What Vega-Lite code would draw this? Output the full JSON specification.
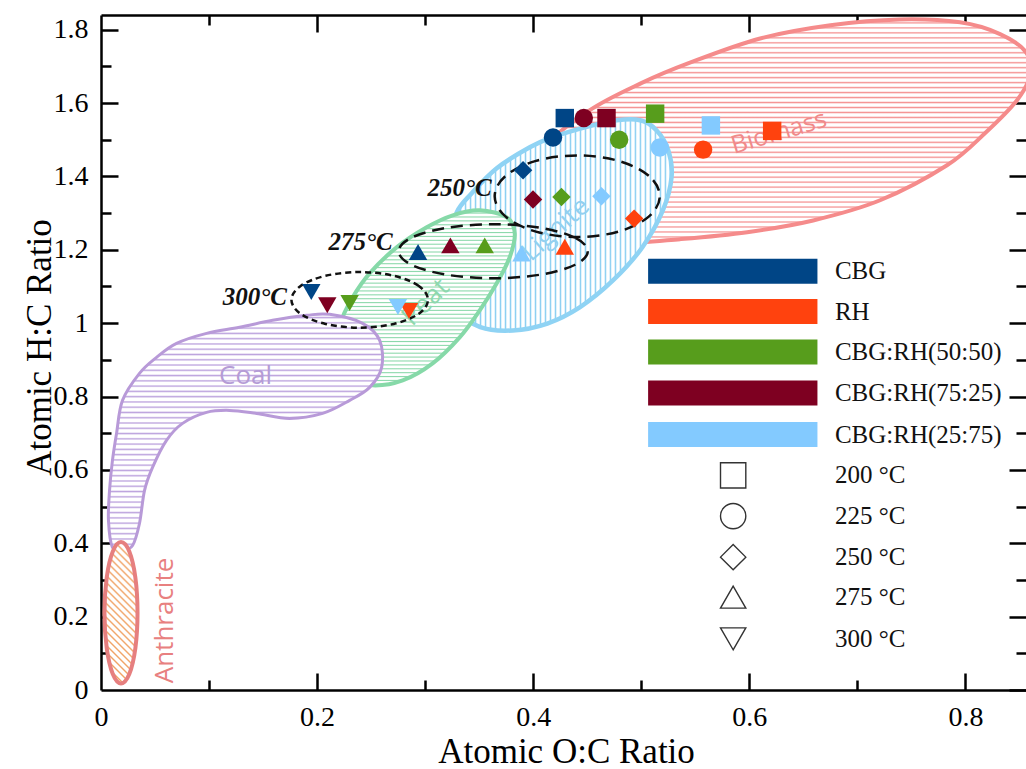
{
"$schema": "https://vega.github.io/schema/vega-lite/v6.json",
"width": 925, "height": 675,
"autosize": "none",
"padding": {"left": 101, "top": 15, "right": 0, "bottom": 79},
"background": "white",
"config": {"view": {"stroke": null},
 "axis": {"grid": false, "domainColor": "#000", "domainWidth": 2.5, "tickColor": "#000", "tickWidth": 2.5, "labelFont": "Liberation Serif", "labelFontSize": 28, "labelColor": "#000", "titleFont": "Liberation Serif", "titleFontSize": 35, "titleFontWeight": "normal", "titleColor": "#000"},
 "style": {
  "hstripe": {"fill": {"gradient": "linear", "x1": 0, "y1": 0, "x2": 0, "y2": 1, "stops": [
{"offset":0,"color":"#fff"},{"offset":0.01,"color":"#fff"},{"offset":0.016,"color":"#fff0"},
{"offset":0.0222,"color":"#fff"},{"offset":0.0322,"color":"#fff"},{"offset":0.0382,"color":"#fff0"},
{"offset":0.0444,"color":"#fff"},{"offset":0.0544,"color":"#fff"},{"offset":0.0604,"color":"#fff0"},
{"offset":0.0667,"color":"#fff"},{"offset":0.0767,"color":"#fff"},{"offset":0.0827,"color":"#fff0"},
{"offset":0.0889,"color":"#fff"},{"offset":0.0989,"color":"#fff"},{"offset":0.1049,"color":"#fff0"},
{"offset":0.1111,"color":"#fff"},{"offset":0.1211,"color":"#fff"},{"offset":0.1271,"color":"#fff0"},
{"offset":0.1333,"color":"#fff"},{"offset":0.1433,"color":"#fff"},{"offset":0.1493,"color":"#fff0"},
{"offset":0.1556,"color":"#fff"},{"offset":0.1656,"color":"#fff"},{"offset":0.1716,"color":"#fff0"},
{"offset":0.1778,"color":"#fff"},{"offset":0.1878,"color":"#fff"},{"offset":0.1938,"color":"#fff0"},
{"offset":0.2,"color":"#fff"},{"offset":0.21,"color":"#fff"},{"offset":0.216,"color":"#fff0"},
{"offset":0.2222,"color":"#fff"},{"offset":0.2322,"color":"#fff"},{"offset":0.2382,"color":"#fff0"},
{"offset":0.2444,"color":"#fff"},{"offset":0.2544,"color":"#fff"},{"offset":0.2604,"color":"#fff0"},
{"offset":0.2667,"color":"#fff"},{"offset":0.2767,"color":"#fff"},{"offset":0.2827,"color":"#fff0"},
{"offset":0.2889,"color":"#fff"},{"offset":0.2989,"color":"#fff"},{"offset":0.3049,"color":"#fff0"},
{"offset":0.3111,"color":"#fff"},{"offset":0.3211,"color":"#fff"},{"offset":0.3271,"color":"#fff0"},
{"offset":0.3333,"color":"#fff"},{"offset":0.3433,"color":"#fff"},{"offset":0.3493,"color":"#fff0"},
{"offset":0.3556,"color":"#fff"},{"offset":0.3656,"color":"#fff"},{"offset":0.3716,"color":"#fff0"},
{"offset":0.3778,"color":"#fff"},{"offset":0.3878,"color":"#fff"},{"offset":0.3938,"color":"#fff0"},
{"offset":0.4,"color":"#fff"},{"offset":0.41,"color":"#fff"},{"offset":0.416,"color":"#fff0"},
{"offset":0.4222,"color":"#fff"},{"offset":0.4322,"color":"#fff"},{"offset":0.4382,"color":"#fff0"},
{"offset":0.4444,"color":"#fff"},{"offset":0.4544,"color":"#fff"},{"offset":0.4604,"color":"#fff0"},
{"offset":0.4667,"color":"#fff"},{"offset":0.4767,"color":"#fff"},{"offset":0.4827,"color":"#fff0"},
{"offset":0.4889,"color":"#fff"},{"offset":0.4989,"color":"#fff"},{"offset":0.5049,"color":"#fff0"},
{"offset":0.5111,"color":"#fff"},{"offset":0.5211,"color":"#fff"},{"offset":0.5271,"color":"#fff0"},
{"offset":0.5333,"color":"#fff"},{"offset":0.5433,"color":"#fff"},{"offset":0.5493,"color":"#fff0"},
{"offset":0.5556,"color":"#fff"},{"offset":0.5656,"color":"#fff"},{"offset":0.5716,"color":"#fff0"},
{"offset":0.5778,"color":"#fff"},{"offset":0.5878,"color":"#fff"},{"offset":0.5938,"color":"#fff0"},
{"offset":0.6,"color":"#fff"},{"offset":0.61,"color":"#fff"},{"offset":0.616,"color":"#fff0"},
{"offset":0.6222,"color":"#fff"},{"offset":0.6322,"color":"#fff"},{"offset":0.6382,"color":"#fff0"},
{"offset":0.6444,"color":"#fff"},{"offset":0.6544,"color":"#fff"},{"offset":0.6604,"color":"#fff0"},
{"offset":0.6667,"color":"#fff"},{"offset":0.6767,"color":"#fff"},{"offset":0.6827,"color":"#fff0"},
{"offset":0.6889,"color":"#fff"},{"offset":0.6989,"color":"#fff"},{"offset":0.7049,"color":"#fff0"},
{"offset":0.7111,"color":"#fff"},{"offset":0.7211,"color":"#fff"},{"offset":0.7271,"color":"#fff0"},
{"offset":0.7333,"color":"#fff"},{"offset":0.7433,"color":"#fff"},{"offset":0.7493,"color":"#fff0"},
{"offset":0.7556,"color":"#fff"},{"offset":0.7656,"color":"#fff"},{"offset":0.7716,"color":"#fff0"},
{"offset":0.7778,"color":"#fff"},{"offset":0.7878,"color":"#fff"},{"offset":0.7938,"color":"#fff0"},
{"offset":0.8,"color":"#fff"},{"offset":0.81,"color":"#fff"},{"offset":0.816,"color":"#fff0"},
{"offset":0.8222,"color":"#fff"},{"offset":0.8322,"color":"#fff"},{"offset":0.8382,"color":"#fff0"},
{"offset":0.8444,"color":"#fff"},{"offset":0.8544,"color":"#fff"},{"offset":0.8604,"color":"#fff0"},
{"offset":0.8667,"color":"#fff"},{"offset":0.8767,"color":"#fff"},{"offset":0.8827,"color":"#fff0"},
{"offset":0.8889,"color":"#fff"},{"offset":0.8989,"color":"#fff"},{"offset":0.9049,"color":"#fff0"},
{"offset":0.9111,"color":"#fff"},{"offset":0.9211,"color":"#fff"},{"offset":0.9271,"color":"#fff0"},
{"offset":0.9333,"color":"#fff"},{"offset":0.9433,"color":"#fff"},{"offset":0.9493,"color":"#fff0"},
{"offset":0.9556,"color":"#fff"},{"offset":0.9656,"color":"#fff"},{"offset":0.9716,"color":"#fff0"},
{"offset":0.9778,"color":"#fff"},{"offset":0.9878,"color":"#fff"},{"offset":0.9938,"color":"#fff0"},
{"offset":1,"color":"#fff"}]}},
  "vstripe": {"fill": {"gradient": "linear", "x1": 0, "y1": 0, "x2": 1, "y2": 0, "stops": [
{"offset":0,"color":"#fff"},{"offset":0.01,"color":"#fff"},{"offset":0.016,"color":"#fff0"},
{"offset":0.0222,"color":"#fff"},{"offset":0.0322,"color":"#fff"},{"offset":0.0382,"color":"#fff0"},
{"offset":0.0444,"color":"#fff"},{"offset":0.0544,"color":"#fff"},{"offset":0.0604,"color":"#fff0"},
{"offset":0.0667,"color":"#fff"},{"offset":0.0767,"color":"#fff"},{"offset":0.0827,"color":"#fff0"},
{"offset":0.0889,"color":"#fff"},{"offset":0.0989,"color":"#fff"},{"offset":0.1049,"color":"#fff0"},
{"offset":0.1111,"color":"#fff"},{"offset":0.1211,"color":"#fff"},{"offset":0.1271,"color":"#fff0"},
{"offset":0.1333,"color":"#fff"},{"offset":0.1433,"color":"#fff"},{"offset":0.1493,"color":"#fff0"},
{"offset":0.1556,"color":"#fff"},{"offset":0.1656,"color":"#fff"},{"offset":0.1716,"color":"#fff0"},
{"offset":0.1778,"color":"#fff"},{"offset":0.1878,"color":"#fff"},{"offset":0.1938,"color":"#fff0"},
{"offset":0.2,"color":"#fff"},{"offset":0.21,"color":"#fff"},{"offset":0.216,"color":"#fff0"},
{"offset":0.2222,"color":"#fff"},{"offset":0.2322,"color":"#fff"},{"offset":0.2382,"color":"#fff0"},
{"offset":0.2444,"color":"#fff"},{"offset":0.2544,"color":"#fff"},{"offset":0.2604,"color":"#fff0"},
{"offset":0.2667,"color":"#fff"},{"offset":0.2767,"color":"#fff"},{"offset":0.2827,"color":"#fff0"},
{"offset":0.2889,"color":"#fff"},{"offset":0.2989,"color":"#fff"},{"offset":0.3049,"color":"#fff0"},
{"offset":0.3111,"color":"#fff"},{"offset":0.3211,"color":"#fff"},{"offset":0.3271,"color":"#fff0"},
{"offset":0.3333,"color":"#fff"},{"offset":0.3433,"color":"#fff"},{"offset":0.3493,"color":"#fff0"},
{"offset":0.3556,"color":"#fff"},{"offset":0.3656,"color":"#fff"},{"offset":0.3716,"color":"#fff0"},
{"offset":0.3778,"color":"#fff"},{"offset":0.3878,"color":"#fff"},{"offset":0.3938,"color":"#fff0"},
{"offset":0.4,"color":"#fff"},{"offset":0.41,"color":"#fff"},{"offset":0.416,"color":"#fff0"},
{"offset":0.4222,"color":"#fff"},{"offset":0.4322,"color":"#fff"},{"offset":0.4382,"color":"#fff0"},
{"offset":0.4444,"color":"#fff"},{"offset":0.4544,"color":"#fff"},{"offset":0.4604,"color":"#fff0"},
{"offset":0.4667,"color":"#fff"},{"offset":0.4767,"color":"#fff"},{"offset":0.4827,"color":"#fff0"},
{"offset":0.4889,"color":"#fff"},{"offset":0.4989,"color":"#fff"},{"offset":0.5049,"color":"#fff0"},
{"offset":0.5111,"color":"#fff"},{"offset":0.5211,"color":"#fff"},{"offset":0.5271,"color":"#fff0"},
{"offset":0.5333,"color":"#fff"},{"offset":0.5433,"color":"#fff"},{"offset":0.5493,"color":"#fff0"},
{"offset":0.5556,"color":"#fff"},{"offset":0.5656,"color":"#fff"},{"offset":0.5716,"color":"#fff0"},
{"offset":0.5778,"color":"#fff"},{"offset":0.5878,"color":"#fff"},{"offset":0.5938,"color":"#fff0"},
{"offset":0.6,"color":"#fff"},{"offset":0.61,"color":"#fff"},{"offset":0.616,"color":"#fff0"},
{"offset":0.6222,"color":"#fff"},{"offset":0.6322,"color":"#fff"},{"offset":0.6382,"color":"#fff0"},
{"offset":0.6444,"color":"#fff"},{"offset":0.6544,"color":"#fff"},{"offset":0.6604,"color":"#fff0"},
{"offset":0.6667,"color":"#fff"},{"offset":0.6767,"color":"#fff"},{"offset":0.6827,"color":"#fff0"},
{"offset":0.6889,"color":"#fff"},{"offset":0.6989,"color":"#fff"},{"offset":0.7049,"color":"#fff0"},
{"offset":0.7111,"color":"#fff"},{"offset":0.7211,"color":"#fff"},{"offset":0.7271,"color":"#fff0"},
{"offset":0.7333,"color":"#fff"},{"offset":0.7433,"color":"#fff"},{"offset":0.7493,"color":"#fff0"},
{"offset":0.7556,"color":"#fff"},{"offset":0.7656,"color":"#fff"},{"offset":0.7716,"color":"#fff0"},
{"offset":0.7778,"color":"#fff"},{"offset":0.7878,"color":"#fff"},{"offset":0.7938,"color":"#fff0"},
{"offset":0.8,"color":"#fff"},{"offset":0.81,"color":"#fff"},{"offset":0.816,"color":"#fff0"},
{"offset":0.8222,"color":"#fff"},{"offset":0.8322,"color":"#fff"},{"offset":0.8382,"color":"#fff0"},
{"offset":0.8444,"color":"#fff"},{"offset":0.8544,"color":"#fff"},{"offset":0.8604,"color":"#fff0"},
{"offset":0.8667,"color":"#fff"},{"offset":0.8767,"color":"#fff"},{"offset":0.8827,"color":"#fff0"},
{"offset":0.8889,"color":"#fff"},{"offset":0.8989,"color":"#fff"},{"offset":0.9049,"color":"#fff0"},
{"offset":0.9111,"color":"#fff"},{"offset":0.9211,"color":"#fff"},{"offset":0.9271,"color":"#fff0"},
{"offset":0.9333,"color":"#fff"},{"offset":0.9433,"color":"#fff"},{"offset":0.9493,"color":"#fff0"},
{"offset":0.9556,"color":"#fff"},{"offset":0.9656,"color":"#fff"},{"offset":0.9716,"color":"#fff0"},
{"offset":0.9778,"color":"#fff"},{"offset":0.9878,"color":"#fff"},{"offset":0.9938,"color":"#fff0"},
{"offset":1,"color":"#fff"}]}},
  "dstripe": {"fill": {"gradient": "linear", "x1": 0, "y1": 1, "x2": 0.274, "y2": -0.17, "stops": [
{"offset":0,"color":"#fff"},{"offset":0.018,"color":"#fff"},{"offset":0.0288,"color":"#fff0"},
{"offset":0.04,"color":"#fff"},{"offset":0.058,"color":"#fff"},{"offset":0.0688,"color":"#fff0"},
{"offset":0.08,"color":"#fff"},{"offset":0.098,"color":"#fff"},{"offset":0.1088,"color":"#fff0"},
{"offset":0.12,"color":"#fff"},{"offset":0.138,"color":"#fff"},{"offset":0.1488,"color":"#fff0"},
{"offset":0.16,"color":"#fff"},{"offset":0.178,"color":"#fff"},{"offset":0.1888,"color":"#fff0"},
{"offset":0.2,"color":"#fff"},{"offset":0.218,"color":"#fff"},{"offset":0.2288,"color":"#fff0"},
{"offset":0.24,"color":"#fff"},{"offset":0.258,"color":"#fff"},{"offset":0.2688,"color":"#fff0"},
{"offset":0.28,"color":"#fff"},{"offset":0.298,"color":"#fff"},{"offset":0.3088,"color":"#fff0"},
{"offset":0.32,"color":"#fff"},{"offset":0.338,"color":"#fff"},{"offset":0.3488,"color":"#fff0"},
{"offset":0.36,"color":"#fff"},{"offset":0.378,"color":"#fff"},{"offset":0.3888,"color":"#fff0"},
{"offset":0.4,"color":"#fff"},{"offset":0.418,"color":"#fff"},{"offset":0.4288,"color":"#fff0"},
{"offset":0.44,"color":"#fff"},{"offset":0.458,"color":"#fff"},{"offset":0.4688,"color":"#fff0"},
{"offset":0.48,"color":"#fff"},{"offset":0.498,"color":"#fff"},{"offset":0.5088,"color":"#fff0"},
{"offset":0.52,"color":"#fff"},{"offset":0.538,"color":"#fff"},{"offset":0.5488,"color":"#fff0"},
{"offset":0.56,"color":"#fff"},{"offset":0.578,"color":"#fff"},{"offset":0.5888,"color":"#fff0"},
{"offset":0.6,"color":"#fff"},{"offset":0.618,"color":"#fff"},{"offset":0.6288,"color":"#fff0"},
{"offset":0.64,"color":"#fff"},{"offset":0.658,"color":"#fff"},{"offset":0.6688,"color":"#fff0"},
{"offset":0.68,"color":"#fff"},{"offset":0.698,"color":"#fff"},{"offset":0.7088,"color":"#fff0"},
{"offset":0.72,"color":"#fff"},{"offset":0.738,"color":"#fff"},{"offset":0.7488,"color":"#fff0"},
{"offset":0.76,"color":"#fff"},{"offset":0.778,"color":"#fff"},{"offset":0.7888,"color":"#fff0"},
{"offset":0.8,"color":"#fff"},{"offset":0.818,"color":"#fff"},{"offset":0.8288,"color":"#fff0"},
{"offset":0.84,"color":"#fff"},{"offset":0.858,"color":"#fff"},{"offset":0.8688,"color":"#fff0"},
{"offset":0.88,"color":"#fff"},{"offset":0.898,"color":"#fff"},{"offset":0.9088,"color":"#fff0"},
{"offset":0.92,"color":"#fff"},{"offset":0.938,"color":"#fff"},{"offset":0.9488,"color":"#fff0"},
{"offset":0.96,"color":"#fff"},{"offset":0.978,"color":"#fff"},{"offset":0.9888,"color":"#fff0"},
{"offset":1,"color":"#fff"}]}}
 }},
"datasets": {
 "regions": [
  {"r":"Biomass","i":1,"x":0.369,"y":1.321},{"r":"Biomass","i":2,"x":0.406,"y":1.471},{"r":"Biomass","i":3,"x":0.452,"y":1.58},{"r":"Biomass","i":4,"x":0.499,"y":1.653},{"r":"Biomass","i":5,"x":0.545,"y":1.71},{"r":"Biomass","i":6,"x":0.61,"y":1.776},{"r":"Biomass","i":7,"x":0.675,"y":1.812},{"r":"Biomass","i":8,"x":0.739,"y":1.828},{"r":"Biomass","i":9,"x":0.795,"y":1.82},{"r":"Biomass","i":10,"x":0.832,"y":1.788},{"r":"Biomass","i":11,"x":0.856,"y":1.7385},{"r":"Biomass","i":12,"x":0.8597,"y":1.6758},{"r":"Biomass","i":13,"x":0.8477,"y":1.6077},{"r":"Biomass","i":13.5,"x":0.818,"y":1.5177},{"r":"Biomass","i":14,"x":0.7829,"y":1.4304},{"r":"Biomass","i":15,"x":0.721,"y":1.335},{"r":"Biomass","i":16,"x":0.659,"y":1.28},{"r":"Biomass","i":17,"x":0.598,"y":1.248},{"r":"Biomass","i":18,"x":0.536,"y":1.229},{"r":"Biomass","i":19,"x":0.48,"y":1.218},{"r":"Biomass","i":20,"x":0.425,"y":1.231},
  {"r":"Lignite","i":1,"x":0.3292,"y":1.302},{"r":"Lignite","i":2,"x":0.3431,"y":1.354},{"r":"Lignite","i":3,"x":0.3662,"y":1.4222},{"r":"Lignite","i":4,"x":0.3968,"y":1.4794},{"r":"Lignite","i":5,"x":0.418,"y":1.507},{"r":"Lignite","i":6,"x":0.452,"y":1.537},{"r":"Lignite","i":7,"x":0.477,"y":1.553},{"r":"Lignite","i":8,"x":0.499,"y":1.553},{"r":"Lignite","i":9,"x":0.514,"y":1.526},{"r":"Lignite","i":10,"x":0.525,"y":1.471},{"r":"Lignite","i":11,"x":0.528,"y":1.398},{"r":"Lignite","i":12,"x":0.52,"y":1.308},{"r":"Lignite","i":13,"x":0.501,"y":1.207},{"r":"Lignite","i":14,"x":0.474,"y":1.117},{"r":"Lignite","i":15,"x":0.443,"y":1.043},{"r":"Lignite","i":16,"x":0.413,"y":0.999},{"r":"Lignite","i":17,"x":0.381,"y":0.98},{"r":"Lignite","i":18,"x":0.351,"y":0.989},{"r":"Lignite","i":19,"x":0.3301,"y":1.035},{"r":"Lignite","i":20,"x":0.3208,"y":1.1167},{"r":"Lignite","i":21,"x":0.3218,"y":1.2175},
  {"r":"Peat","i":1,"x":0.3505,"y":1.3076},{"r":"Peat","i":2,"x":0.3755,"y":1.2885},{"r":"Peat","i":3,"x":0.3829,"y":1.2449},{"r":"Peat","i":4,"x":0.3782,"y":1.1795},{"r":"Peat","i":5,"x":0.3662,"y":1.1085},{"r":"Peat","i":6,"x":0.3505,"y":1.0349},{"r":"Peat","i":7,"x":0.3319,"y":0.9613},{"r":"Peat","i":8,"x":0.3069,"y":0.8904},{"r":"Peat","i":9,"x":0.2792,"y":0.844},{"r":"Peat","i":10,"x":0.2514,"y":0.8304},{"r":"Peat","i":11,"x":0.2301,"y":0.8495},{"r":"Peat","i":12,"x":0.2181,"y":0.9122},{"r":"Peat","i":13,"x":0.2208,"y":0.994},{"r":"Peat","i":14,"x":0.2329,"y":1.0704},{"r":"Peat","i":15,"x":0.2486,"y":1.1358},{"r":"Peat","i":16,"x":0.2736,"y":1.2067},{"r":"Peat","i":17,"x":0.3014,"y":1.2613},{"r":"Peat","i":18,"x":0.3255,"y":1.294},
  {"r":"Coal","i":1,"x":0.0106,"y":0.3886},{"r":"Coal","i":2,"x":0.0069,"y":0.4622},{"r":"Coal","i":3,"x":0.0079,"y":0.544},{"r":"Coal","i":4,"x":0.0106,"y":0.6258},{"r":"Coal","i":5,"x":0.0144,"y":0.6995},{"r":"Coal","i":6,"x":0.0199,"y":0.7895},{"r":"Coal","i":7,"x":0.0356,"y":0.8631},{"r":"Coal","i":8,"x":0.0514,"y":0.9067},{"r":"Coal","i":9,"x":0.0699,"y":0.9449},{"r":"Coal","i":10,"x":0.0977,"y":0.9722},{"r":"Coal","i":11,"x":0.1282,"y":0.9886},{"r":"Coal","i":12,"x":0.1588,"y":1.0077},{"r":"Coal","i":13,"x":0.1903,"y":1.0213},{"r":"Coal","i":14,"x":0.2116,"y":1.024},{"r":"Coal","i":15,"x":0.2421,"y":0.9995},{"r":"Coal","i":16,"x":0.2579,"y":0.953},{"r":"Coal","i":17,"x":0.2597,"y":0.8795},{"r":"Coal","i":18,"x":0.2486,"y":0.8249},{"r":"Coal","i":19,"x":0.2301,"y":0.7895},{"r":"Coal","i":20,"x":0.2051,"y":0.754},{"r":"Coal","i":21,"x":0.1745,"y":0.7404},{"r":"Coal","i":22,"x":0.144,"y":0.754},{"r":"Coal","i":23,"x":0.119,"y":0.7622},{"r":"Coal","i":24,"x":0.0977,"y":0.7568},{"r":"Coal","i":25,"x":0.0755,"y":0.7268},{"r":"Coal","i":26,"x":0.0606,"y":0.6804},{"r":"Coal","i":27,"x":0.0477,"y":0.6068},{"r":"Coal","i":28,"x":0.0403,"y":0.544},{"r":"Coal","i":29,"x":0.0356,"y":0.454},{"r":"Coal","i":30,"x":0.0292,"y":0.394},{"r":"Coal","i":31,"x":0.0199,"y":0.3804},
  {"r":"Anthracite","i":1,"x":0.0338,"y":0.2105},{"r":"Anthracite","i":2,"x":0.0318,"y":0.3069},{"r":"Anthracite","i":3,"x":0.0262,"y":0.3774},{"r":"Anthracite","i":4,"x":0.0185,"y":0.4032},{"r":"Anthracite","i":5,"x":0.0109,"y":0.3774},{"r":"Anthracite","i":6,"x":0.0053,"y":0.3069},{"r":"Anthracite","i":7,"x":0.0032,"y":0.2105},{"r":"Anthracite","i":8,"x":0.0053,"y":0.1141},{"r":"Anthracite","i":9,"x":0.0109,"y":0.0436},{"r":"Anthracite","i":10,"x":0.0185,"y":0.0178},{"r":"Anthracite","i":11,"x":0.0262,"y":0.0436},{"r":"Anthracite","i":12,"x":0.0318,"y":0.1141}
 ],
 "dashed": [
  {"n":"250","i":1,"x":0.5171,"y":1.346},{"n":"250","i":2,"x":0.5069,"y":1.4017},{"n":"250","i":3,"x":0.4789,"y":1.4424},{"n":"250","i":4,"x":0.4407,"y":1.4573},{"n":"250","i":5,"x":0.4025,"y":1.4424},{"n":"250","i":6,"x":0.3745,"y":1.4017},{"n":"250","i":7,"x":0.3643,"y":1.346},{"n":"250","i":8,"x":0.3745,"y":1.2903},{"n":"250","i":9,"x":0.4025,"y":1.2496},{"n":"250","i":10,"x":0.4407,"y":1.2347},{"n":"250","i":11,"x":0.4789,"y":1.2496},{"n":"250","i":12,"x":0.5069,"y":1.2903},
  {"n":"275","i":1,"x":0.4505,"y":1.196},{"n":"275","i":2,"x":0.4388,"y":1.2328},{"n":"275","i":3,"x":0.4068,"y":1.2597},{"n":"275","i":4,"x":0.363,"y":1.2696},{"n":"275","i":5,"x":0.3192,"y":1.2597},{"n":"275","i":6,"x":0.2872,"y":1.2328},{"n":"275","i":7,"x":0.2755,"y":1.196},{"n":"275","i":8,"x":0.2872,"y":1.1592},{"n":"275","i":9,"x":0.3192,"y":1.1323},{"n":"275","i":10,"x":0.363,"y":1.1224},{"n":"275","i":11,"x":0.4068,"y":1.1323},{"n":"275","i":12,"x":0.4388,"y":1.1592}
 ],
 "dashed300": [
  {"n":"300","i":1,"x":0.3026,"y":1.0635},{"n":"300","i":2,"x":0.2941,"y":1.1014},{"n":"300","i":3,"x":0.271,"y":1.1291},{"n":"300","i":4,"x":0.2394,"y":1.1393},{"n":"300","i":5,"x":0.2078,"y":1.1291},{"n":"300","i":6,"x":0.1847,"y":1.1014},{"n":"300","i":7,"x":0.1762,"y":1.0635},{"n":"300","i":8,"x":0.1847,"y":1.0256},{"n":"300","i":9,"x":0.2078,"y":0.9979},{"n":"300","i":10,"x":0.2394,"y":0.9877},{"n":"300","i":11,"x":0.271,"y":0.9979},{"n":"300","i":12,"x":0.2941,"y":1.0256}
 ],
 "points": [
  {"group":"CBG","temp":"200","x":0.4292,"y":1.559},{"group":"CBG","temp":"225","x":0.4183,"y":1.506},{"group":"CBG","temp":"250","x":0.3906,"y":1.417},{"group":"CBG","temp":"275","x":0.2934,"y":1.194},{"group":"CBG","temp":"300","x":0.1946,"y":1.085},
  {"group":"RH","temp":"200","x":0.6211,"y":1.524},{"group":"RH","temp":"225","x":0.5572,"y":1.473},{"group":"RH","temp":"250","x":0.4934,"y":1.285},{"group":"RH","temp":"275","x":0.4292,"y":1.208},{"group":"RH","temp":"300","x":0.285,"y":1.0335},
  {"group":"CBG:RH(50:50)","temp":"200","x":0.5128,"y":1.571},{"group":"CBG:RH(50:50)","temp":"225","x":0.4795,"y":1.5},{"group":"CBG:RH(50:50)","temp":"250","x":0.4261,"y":1.344},{"group":"CBG:RH(50:50)","temp":"275","x":0.3551,"y":1.212},{"group":"CBG:RH(50:50)","temp":"300","x":0.2301,"y":1.055},
  {"group":"CBG:RH(75:25)","temp":"200","x":0.4678,"y":1.559},{"group":"CBG:RH(75:25)","temp":"225","x":0.4468,"y":1.559},{"group":"CBG:RH(75:25)","temp":"250","x":0.3998,"y":1.337},{"group":"CBG:RH(75:25)","temp":"275","x":0.3233,"y":1.212},{"group":"CBG:RH(75:25)","temp":"300","x":0.2094,"y":1.049},
  {"group":"CBG:RH(25:75)","temp":"200","x":0.5644,"y":1.539},{"group":"CBG:RH(25:75)","temp":"225","x":0.5171,"y":1.479},{"group":"CBG:RH(25:75)","temp":"250","x":0.4631,"y":1.346},{"group":"CBG:RH(25:75)","temp":"275","x":0.3891,"y":1.19},{"group":"CBG:RH(25:75)","temp":"300","x":0.2748,"y":1.044}
 ],
 "legendBars": [
  {"group":"CBG","x":0.5063,"x2":0.663,"y":1.1418},{"group":"RH","x":0.5063,"x2":0.663,"y":1.0316},{"group":"CBG:RH(50:50)","x":0.5063,"x2":0.663,"y":0.9212},{"group":"CBG:RH(75:25)","x":0.5063,"x2":0.663,"y":0.8099},{"group":"CBG:RH(25:75)","x":0.5063,"x2":0.663,"y":0.6962}
 ],
 "legendShapes": [
  {"temp":"200","x":0.585,"y":0.585},{"temp":"225","x":0.585,"y":0.474},{"temp":"250","x":0.585,"y":0.3622},{"temp":"275","x":0.585,"y":0.2531},{"temp":"300","x":0.585,"y":0.1396}
 ],
 "legendText": [
  {"label":"CBG","x":0.6792,"y":1.1418},{"label":"RH","x":0.6792,"y":1.0316},{"label":"CBG:RH(50:50)","x":0.6792,"y":0.9212},{"label":"CBG:RH(75:25)","x":0.6792,"y":0.8099},{"label":"CBG:RH(25:75)","x":0.6792,"y":0.6962},
  {"label":"200 °C","x":0.6792,"y":0.585},{"label":"225 °C","x":0.6792,"y":0.474},{"label":"250 °C","x":0.6792,"y":0.3622},{"label":"275 °C","x":0.6792,"y":0.2531},{"label":"300 °C","x":0.6792,"y":0.1396}
 ],
 "tempLabels": [
  {"label":"250°C","x":0.3616,"y":1.3676},{"label":"275°C","x":0.27,"y":1.221},{"label":"300°C","x":0.172,"y":1.071}
 ],
 "regionLabels": [
  {"name":"Biomass","x":0.6273,"y":1.5203},{"name":"Lignite","x":0.4208,"y":1.2558},{"name":"Peat","x":0.3005,"y":1.0567},{"name":"Coal","x":0.1338,"y":0.855},{"name":"Anthracite","x":0.0588,"y":0.1895}
 ],
 "anchor": [{"x": 0, "y": 0}]
},
"encoding": {
 "x": {"field": "x", "type": "quantitative", "scale": {"domain": [0, 0.856], "nice": false, "zero": false},
  "axis": {"title": "Atomic O:C Ratio", "values": [0,0.2,0.4,0.6,0.8], "format": "~g", "ticks": false,
   "labelPadding": 13, "labelFlush": false, "titleX": 465, "titleY": 72, "titleBaseline": "alphabetic"}},
 "y": {"field": "y", "type": "quantitative", "scale": {"domain": [0, 1.84], "nice": false, "zero": false},
  "axis": {"title": "Atomic H:C Ratio", "values": [0,0.2,0.4,0.6,0.8,1,1.2,1.4,1.6,1.8], "format": "~g", "ticks": false,
   "labelPadding": 13, "titleX": -51, "titleY": 332, "titleBaseline": "alphabetic", "titleAngle": -90}}
},
"resolve": {"axis": {"x": "independent", "y": "independent"}},
"layer": [
 {"layer": [
  {"data": {"name": "regions"}, "transform": [{"filter": "datum.r === 'Biomass'"}],
   "mark": {"type": "line", "interpolate": "cardinal-closed", "strokeOpacity": 0, "fill": "#f59494"},
   "encoding": {"order": {"field": "i", "type": "quantitative"}}},
  {"data": {"name": "regions"}, "transform": [{"filter": "datum.r === 'Biomass'"}],
   "mark": {"type": "line", "interpolate": "cardinal-closed", "style": "hstripe", "stroke": "#f58b8b", "strokeWidth": 4},
   "encoding": {"order": {"field": "i", "type": "quantitative"}}},
  {"data": {"name": "regions"}, "transform": [{"filter": "datum.r === 'Lignite'"}],
   "mark": {"type": "line", "interpolate": "cardinal-closed", "strokeOpacity": 0, "fill": "#8dd0f2"},
   "encoding": {"order": {"field": "i", "type": "quantitative"}}},
  {"data": {"name": "regions"}, "transform": [{"filter": "datum.r === 'Lignite'"}],
   "mark": {"type": "line", "interpolate": "cardinal-closed", "style": "vstripe", "stroke": "#8fd3f4", "strokeWidth": 4.5},
   "encoding": {"order": {"field": "i", "type": "quantitative"}}},
  {"data": {"name": "regions"}, "transform": [{"filter": "datum.r === 'Peat'"}],
   "mark": {"type": "line", "interpolate": "cardinal-closed", "strokeOpacity": 0, "fill": "#8ad8aa"},
   "encoding": {"order": {"field": "i", "type": "quantitative"}}},
  {"data": {"name": "regions"}, "transform": [{"filter": "datum.r === 'Peat'"}],
   "mark": {"type": "line", "interpolate": "cardinal-closed", "style": "hstripe", "stroke": "#86d9a8", "strokeWidth": 4},
   "encoding": {"order": {"field": "i", "type": "quantitative"}}},
  {"data": {"name": "regions"}, "transform": [{"filter": "datum.r === 'Coal'"}],
   "mark": {"type": "line", "interpolate": "cardinal-closed", "strokeOpacity": 0, "fill": "#bda4de"},
   "encoding": {"order": {"field": "i", "type": "quantitative"}}},
  {"data": {"name": "regions"}, "transform": [{"filter": "datum.r === 'Coal'"}],
   "mark": {"type": "line", "interpolate": "cardinal-closed", "style": "hstripe", "stroke": "#b89ad8", "strokeWidth": 3},
   "encoding": {"order": {"field": "i", "type": "quantitative"}}},
  {"data": {"name": "regions"}, "transform": [{"filter": "datum.r === 'Anthracite'"}],
   "mark": {"type": "line", "interpolate": "cardinal-closed", "strokeOpacity": 0, "fill": "#f0a060"},
   "encoding": {"order": {"field": "i", "type": "quantitative"}}},
  {"data": {"name": "regions"}, "transform": [{"filter": "datum.r === 'Anthracite'"}],
   "mark": {"type": "line", "interpolate": "cardinal-closed", "style": "dstripe", "stroke": "#e67f7f", "strokeWidth": 4},
   "encoding": {"order": {"field": "i", "type": "quantitative"}}},
  {"data": {"name": "regionLabels"}, "transform": [{"filter": "datum.name === 'Biomass'"}],
   "mark": {"type": "text", "font": "Open Sans", "fontSize": 25, "color": "#f08a8a", "angle": -16.5, "align": "center", "baseline": "middle"},
   "encoding": {"text": {"field": "name"}}},
  {"data": {"name": "regionLabels"}, "transform": [{"filter": "datum.name === 'Lignite'"}],
   "mark": {"type": "text", "font": "Open Sans", "fontSize": 26, "color": "#92d0f0", "angle": -42, "align": "center", "baseline": "middle"},
   "encoding": {"text": {"field": "name"}}},
  {"data": {"name": "regionLabels"}, "transform": [{"filter": "datum.name === 'Peat'"}],
   "mark": {"type": "text", "font": "Open Sans", "fontSize": 26, "color": "#8ed8ae", "angle": -45, "align": "center", "baseline": "middle"},
   "encoding": {"text": {"field": "name"}}},
  {"data": {"name": "regionLabels"}, "transform": [{"filter": "datum.name === 'Coal'"}],
   "mark": {"type": "text", "font": "Open Sans", "fontSize": 26, "color": "#b59cd6", "align": "center", "baseline": "middle"},
   "encoding": {"text": {"field": "name"}}},
  {"data": {"name": "regionLabels"}, "transform": [{"filter": "datum.name === 'Anthracite'"}],
   "mark": {"type": "text", "font": "Open Sans", "fontSize": 26, "color": "#e88080", "angle": -90, "align": "center", "baseline": "middle"},
   "encoding": {"text": {"field": "name"}}},
  {"data": {"name": "dashed"},
   "mark": {"type": "line", "interpolate": "cardinal-closed", "stroke": "#111", "strokeWidth": 2.5, "strokeDash": [12, 7]},
   "encoding": {"detail": {"field": "n"}, "order": {"field": "i", "type": "quantitative"}}},
  {"data": {"name": "dashed300"},
   "mark": {"type": "line", "interpolate": "cardinal-closed", "stroke": "#111", "strokeWidth": 2.5, "strokeDash": [6, 4]},
   "encoding": {"order": {"field": "i", "type": "quantitative"}}},
  {"data": {"name": "points"},
   "mark": {"type": "point", "filled": true, "opacity": 1, "size": 340},
   "encoding": {
    "color": {"field": "group", "type": "nominal", "scale": {"domain": ["CBG","RH","CBG:RH(50:50)","CBG:RH(75:25)","CBG:RH(25:75)"], "range": ["#004586","#ff420e","#579d1c","#7e0021","#83caff"]}, "legend": null},
    "shape": {"field": "temp", "type": "nominal", "scale": {"domain": ["200","225","250","275","300"], "range": ["square","circle","diamond","triangle-up","triangle-down"]}, "legend": null}}},
  {"data": {"name": "tempLabels"},
   "mark": {"type": "text", "font": "Liberation Serif", "fontSize": 25, "fontStyle": "italic", "fontWeight": "bold", "color": "#111", "align": "right", "baseline": "middle"},
   "encoding": {"text": {"field": "label"}}},
  {"data": {"name": "legendBars"},
   "mark": {"type": "rule", "strokeWidth": 25, "strokeCap": "butt"},
   "encoding": {"x2": {"field": "x2"}, "color": {"field": "group", "type": "nominal", "legend": null}}},
  {"data": {"name": "legendShapes"},
   "mark": {"type": "point", "filled": false, "stroke": "#333", "strokeWidth": 1.4, "size": 640, "opacity": 1},
   "encoding": {"shape": {"field": "temp", "type": "nominal", "legend": null}}},
  {"data": {"name": "legendText"},
   "mark": {"type": "text", "font": "Liberation Serif", "fontSize": 25, "color": "#111", "align": "left", "baseline": "middle"},
   "encoding": {"text": {"field": "label"}}}
 ]},
 {"data": {"name": "anchor"}, "mark": {"type": "point", "opacity": 0},
  "encoding": {
   "x": {"field": "x", "type": "quantitative", "scale": {"domain": [0, 0.856], "nice": false, "zero": false},
    "axis": {"orient": "top", "title": null, "labels": false, "ticks": false, "domain": true}},
   "y": {"field": "y", "type": "quantitative", "scale": {"domain": [0, 1.84], "nice": false, "zero": false},
    "axis": {"orient": "right", "title": null, "labels": false, "domain": false, "offset": -17, "tickSize": 17, "values": [0,0.2,0.4,0.6,0.8,1,1.2,1.4,1.6,1.8]}}}},
 {"data": {"name": "anchor"}, "mark": {"type": "point", "opacity": 0},
  "encoding": {
   "x": {"field": "x", "type": "quantitative", "scale": {"domain": [0, 0.856], "nice": false, "zero": false},
    "axis": {"orient": "bottom", "title": null, "labels": false, "domain": false, "offset": -17, "tickSize": 17, "values": [0.2,0.4,0.6,0.8]}},
   "y": {"field": "y", "type": "quantitative", "scale": {"domain": [0, 1.84], "nice": false, "zero": false},
    "axis": {"orient": "left", "title": null, "labels": false, "domain": false, "offset": -17, "tickSize": 17, "values": [0.2,0.4,0.6,0.8,1,1.2,1.4,1.6,1.8]}}}},
 {"data": {"name": "anchor"}, "mark": {"type": "point", "opacity": 0},
  "encoding": {
   "x": {"field": "x", "type": "quantitative", "scale": {"domain": [0, 0.856], "nice": false, "zero": false},
    "axis": {"orient": "bottom", "title": null, "labels": false, "domain": false, "offset": -10, "tickSize": 10, "values": [0.1,0.3,0.5,0.7]}},
   "y": {"field": "y", "type": "quantitative", "scale": {"domain": [0, 1.84], "nice": false, "zero": false},
    "axis": {"orient": "left", "title": null, "labels": false, "domain": false, "offset": -10, "tickSize": 10, "values": [0.1,0.3,0.5,0.7,0.9,1.1,1.3,1.5,1.7]}}}},
 {"data": {"name": "anchor"}, "mark": {"type": "point", "opacity": 0},
  "encoding": {
   "x": {"field": "x", "type": "quantitative", "scale": {"domain": [0, 0.856], "nice": false, "zero": false},
    "axis": {"orient": "top", "title": null, "labels": false, "domain": false, "offset": -17, "tickSize": 17, "values": [0.2,0.4,0.6,0.8]}},
   "y": {"field": "y", "type": "quantitative", "scale": {"domain": [0, 1.84], "nice": false, "zero": false},
    "axis": {"orient": "right", "title": null, "labels": false, "domain": false, "offset": -10, "tickSize": 10, "values": [0.1,0.3,0.5,0.7,0.9,1.1,1.3,1.5,1.7]}}}},
 {"data": {"name": "anchor"}, "mark": {"type": "point", "opacity": 0},
  "encoding": {
   "x": {"field": "x", "type": "quantitative", "scale": {"domain": [0, 0.856], "nice": false, "zero": false},
    "axis": {"orient": "top", "title": null, "labels": false, "domain": false, "offset": -10, "tickSize": 10, "values": [0.1,0.3,0.5,0.7]}},
   "y": {"field": "y", "type": "quantitative", "scale": {"domain": [0, 1.84], "nice": false, "zero": false}, "axis": null}}}
]
}
